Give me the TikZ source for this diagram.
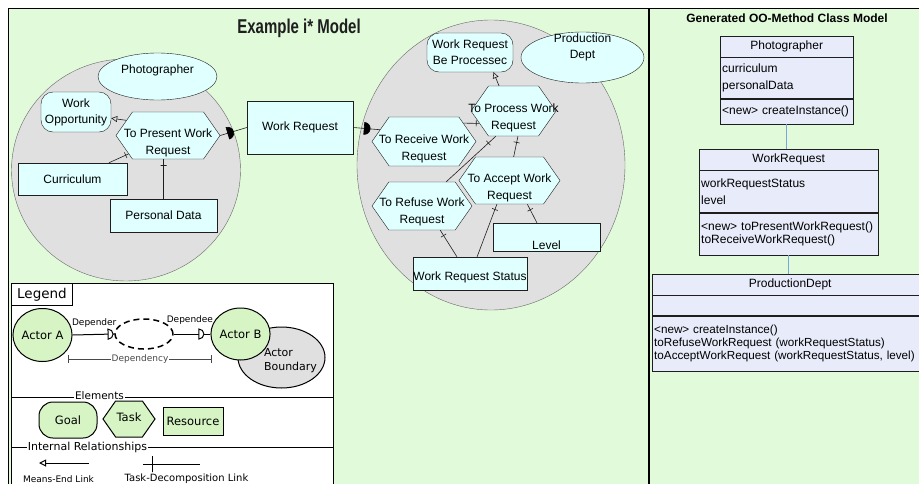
\documentclass[tikz,border=0pt]{standalone}
\usepackage{fontspec}
\setmainfont{Liberation Sans}
\newfontfamily\legendfont{DejaVu Sans}
\usetikzlibrary{shapes.geometric, shapes.symbols, arrows.meta, positioning}
\definecolor{PanelGreen}{RGB}{225,250,218}
\definecolor{BoundaryGrey}{RGB}{224,224,224}
\definecolor{EdgeGrey}{RGB}{105,105,105}
\definecolor{ElementCyan}{RGB}{224,255,255}
\definecolor{LegendGreen}{RGB}{214,244,196}
\definecolor{ClassLavender}{RGB}{232,236,250}
\definecolor{LinkBlue}{RGB}{120,165,220}
\definecolor{InkBlack}{RGB}{30,30,30}

\begin{document}
\begin{tikzpicture}[x=1pt, y=-1pt,
    mfont/.style={font=\fontsize{12}{16}\selectfont},
    lfont/.style={font=\legendfont\fontsize{#1}{14}\selectfont},
    boundary/.style={ellipse, draw=EdgeGrey, fill=BoundaryGrey, inner sep=0pt},
    actor/.style={ellipse, draw=InkBlack, fill=ElementCyan, inner sep=0pt, mfont},
    goal/.style={rectangle, rounded corners=12pt, draw=InkBlack, fill=ElementCyan, inner sep=0pt, align=center, mfont},
    task/.style={signal, signal to=east and west, signal pointer angle=110, draw=InkBlack, fill=ElementCyan, inner sep=0pt},
    tasktext/.style={font=\fontsize{12}{17}\selectfont, align=center, inner sep=0pt, yshift=-7pt},
    resource/.style={rectangle, draw=InkBlack, fill=ElementCyan, inner sep=0pt, mfont},
    link/.style={draw=InkBlack, line width=0.6pt},
    meansend/.style={link, -{Triangle[open, length=6pt, width=6pt]}},
    dtick/.style={draw=InkBlack, rectangle, minimum width=0pt, minimum height=6pt, inner sep=0pt, sloped},
    dmark/.style={semicircle, fill=black, draw=black, inner sep=0pt, minimum size=6pt, sloped, rotate=-90},
    dmarkopen/.style={semicircle, fill=white, draw=black, line width=1pt, inner sep=0pt, minimum size=5pt, sloped, rotate=-90},
    classpart/.style={rectangle, draw=InkBlack, fill=ClassLavender, anchor=north west, inner xsep=2pt, inner ysep=0pt, mfont},
    lgdshape/.style={draw=black, line width=1pt, fill=LegendGreen, inner sep=0pt, lfont=11.5},
    lgdline/.style={draw=black, line width=1pt},
]
    % Paneles
    \clip (0,0) rectangle (919,483);
    \fill[white] (0,0) rectangle (919,483);
    \filldraw[fill=PanelGreen, draw=black] (8.5,8.5) rectangle (648,500);
    \filldraw[fill=PanelGreen, draw=black] (649.5,8.5) rectangle (930,500);
    \node[font=\fontsize{20}{24}\selectfont\bfseries, text=InkBlack] (title) at (299,28) {\scalebox{0.75}[1]{Example i* Model}};
    \node[font=\fontsize{12}{14}\selectfont\bfseries] (cmTitle) at (787,18) {Generated OO-Method Class Model};

    % Actor Photographer
    \node[boundary, minimum width=229, minimum height=222] (phB) at (126,170) {};
    \node[actor, minimum width=119, minimum height=47, label={[mfont, yshift=6pt]center:Photographer}] (ph) at (157.5,76.5) {};
    \node[goal, minimum width=70, minimum height=40] (wo) at (76,112) {Work\\Opportunity};
    \node[task, minimum width=104, minimum height=47, label={[tasktext]center:To Present Work\\Request}] (tpr) at (168,135.5) {};
    \node[resource, minimum width=109, minimum height=32] (cur) at (72.5,179) {Curriculum};
    \node[resource, minimum width=107, minimum height=33] (pda) at (163.5,215.5) {Personal Data};
    \draw[meansend] (tpr.160) -- (wo.-10);
    \draw[link] (cur.24) -- node[dtick, pos=0.85] {} (tpr.205);
    \draw[link] (pda.north) -- node[dtick, pos=0.85] {} (pda.north |- tpr.south);

    % Recurso de dependencia
    \node[resource, minimum width=106, minimum height=53] (wr) at (300,127.5) {Work Request};

    % Actor Production Dept
    \node[boundary, minimum width=268, minimum height=290] (pdB) at (491,165) {};
    \node[actor, minimum width=123, minimum height=51, label={[mfont, align=center, yshift=10pt]center:Production\\Dept}] (pd) at (582.5,57.5) {};
    \node[goal, minimum width=86, minimum height=39] (wrbp) at (470,52.5) {Work Request\\Be Processec};
    \node[task, minimum width=85, minimum height=50, label={[tasktext]center:To Process Work\\Request}] (tprc) at (513.5,111) {};
    \node[task, minimum width=104, minimum height=49, label={[tasktext]center:To Receive Work\\Request}] (trw) at (424,141.5) {};
    \node[task, minimum width=101, minimum height=47, label={[tasktext]center:To Accept Work\\Request}] (tac) at (509.5,180.5) {};
    \node[task, minimum width=100, minimum height=48, label={[tasktext, yshift=1.5pt]center:To Refuse Work\\Request}] (trf) at (422,206) {};
    \node[resource, minimum width=107, minimum height=28, label={[mfont, yshift=-8pt]center:Level}] (lvl) at (546.5,237) {};
    \node[resource, minimum width=114, minimum height=33, label={[mfont, yshift=-3.5pt]center:Work Request Status}] (wrs) at (470,273.5) {};
    \draw[meansend] (tprc.120) -- (wrbp.-40);
    \draw[link] (trw.25) -- node[dtick, pos=0.8] {} (tprc.200);
    \draw[link] (trf.45) -- node[dtick, pos=0.85] {} (tprc.235);
    \draw[link] (tac.80) -- node[dtick, pos=0.7] {} (tprc.-80);
    \draw[link] (wrs.128) -- node[dtick, pos=0.8] {} (trf.-53);
    \draw[link] (wrs.67) -- node[dtick, pos=0.9] {} (tac.-118);
    \draw[link] (lvl.124) -- node[dtick, pos=0.7] {} (tac.-53);

    % Dependencias
    \draw[link] (tpr.east) -- node[dmark, pos=0.37] {} (wr.west);
    \draw[link] (wr.east) -- node[dmark, pos=0.5] {} (trw.165);

    % Clase Photographer
    \node[classpart, minimum width=133, minimum height=21, align=center] (phHead) at (720,36) {Photographer};
    \node[classpart, minimum height=41, text width=129, align=left, font=\fontsize{12}{17}\selectfont] (phAttr) at (phHead.south west) {curriculum\\personalData};
    \node[classpart, minimum height=25, text width=129, align=left] (phMeth) at (phAttr.south west) {<new> createInstance()};

    % Clase WorkRequest
    \node[classpart, minimum width=179, minimum height=21, align=center] (wrHead) at (699,149) {WorkRequest};
    \node[classpart, minimum height=42, text width=175, align=left, font=\fontsize{12}{17}\selectfont] (wrAttr) at (wrHead.south west) {workRequestStatus\\level};
    \node[classpart, minimum height=42, text width=175, align=left, font=\fontsize{12}{13}\selectfont] (wrMeth) at (wrAttr.south west) {<new> toPresentWorkRequest()\\toReceiveWorkRequest()};

    % Clase ProductionDept
    \node[classpart, minimum width=276, minimum height=21, align=center] (pdHead) at (652,274) {ProductionDept};
    \node[classpart, minimum height=20, text width=272, align=left] (pdAttr) at (pdHead.south west) {};
    \node[classpart, minimum height=55, text width=272, align=left, font=\fontsize{11.7}{13}\selectfont] (pdMeth) at (pdAttr.south west) {<new> createInstance()\\toRefuseWorkRequest (workRequestStatus)\\toAcceptWorkRequest (workRequestStatus, level)};

    \draw[LinkBlue, line width=0.8pt] (phMeth.south) -- (phMeth.south |- wrHead.north);
    \draw[LinkBlue, line width=0.8pt] (wrMeth.south) -- (wrMeth.south |- pdHead.north);

    % Leyenda
    \filldraw[fill=white, draw=black, line width=1pt] (11,283) rectangle (333,500);
    \node[draw=black, line width=1pt, fill=white, anchor=north west, minimum width=61, minimum height=22, inner sep=0pt, lfont=13.5] (lgd) at (11,283) {Legend};
    \node[boundary, draw=black, line width=1pt, minimum width=87, minimum height=61, label={[lfont=11, align=left, xshift=9pt, yshift=-3pt]center:Actor\\Boundary}] (actBnd) at (281.5,357.5) {};
    \node[lgdshape, ellipse, minimum width=49, minimum height=53] (actA) at (42.5,335) {Actor A};
    \node[lgdshape, ellipse, minimum width=49, minimum height=52] (actB) at (240.5,334) {Actor B};
    \node[ellipse, draw=black, dashed, dash pattern=on 6pt off 4pt, line width=1.5pt, minimum width=58, minimum height=30, inner sep=0pt] (dpm) at (144,334) {};
    \draw[lgdline] (actA.east) -- node[dmarkopen, pos=0.9] {} node[above=7pt, lfont=9, pos=0.52, inner sep=0pt] (dpr) {Depender} (dpm.west);
    \draw[lgdline] (dpm.east) -- node[dmarkopen, pos=0.74] {} node[above=9pt, lfont=9, pos=0.44, inner sep=0pt] (dpe) {Dependee} (actB.west);
    \coordinate (depL) at (68,359);
    \coordinate (depR) at (212,359);
    \draw[EdgeGrey!70!black, line width=0.8pt, {Bar[width=8pt]}-{Bar[width=8pt]}] (depL) -- node[fill=white, inner sep=1pt, lfont=9] (depTxt) {Dependency} (depR);

    \draw[lgdline] (11,397) -- (333,397);
    \node[fill=white, inner sep=1pt, lfont=10.5] (elm) at (99.5,396) {Elements};
    \node[lgdshape, rectangle, rounded corners=14pt, minimum width=58, minimum height=36] (lgGoal) at (68,420) {Goal};
    \node[lgdshape, signal, signal to=east and west, signal pointer angle=110, minimum width=52, minimum height=36, label={[lfont=11.5, yshift=2pt]center:Task}] (lgTask) at (129,419) {};
    \node[lgdshape, rectangle, minimum width=60, minimum height=28] (lgRes) at (193,421) {Resource};

    \draw[lgdline] (11,447) -- (333,447);
    \node[fill=white, inner sep=1pt, lfont=11] (irl) at (87.5,447) {Internal Relationships};
    \coordinate (meA) at (39,463);
    \coordinate (meB) at (89,463);
    \draw[lgdline, -{Triangle[open, length=7pt, width=7pt]}] (meB) -- (meA);
    \coordinate (tdA) at (143,464);
    \coordinate (tdB) at (200,464);
    \draw[lgdline] (tdA) -- node[pos=0.16, draw=black, line width=1pt, minimum width=0pt, minimum height=16pt, inner sep=0pt] (tdTick) {} (tdB);
    \node[lfont=9] (meTxt) at (58.5,479) {Means-End Link};
    \node[lfont=10] (tdTxt) at (186.5,479) {Task-Decomposition Link};
\end{tikzpicture}
\end{document}
